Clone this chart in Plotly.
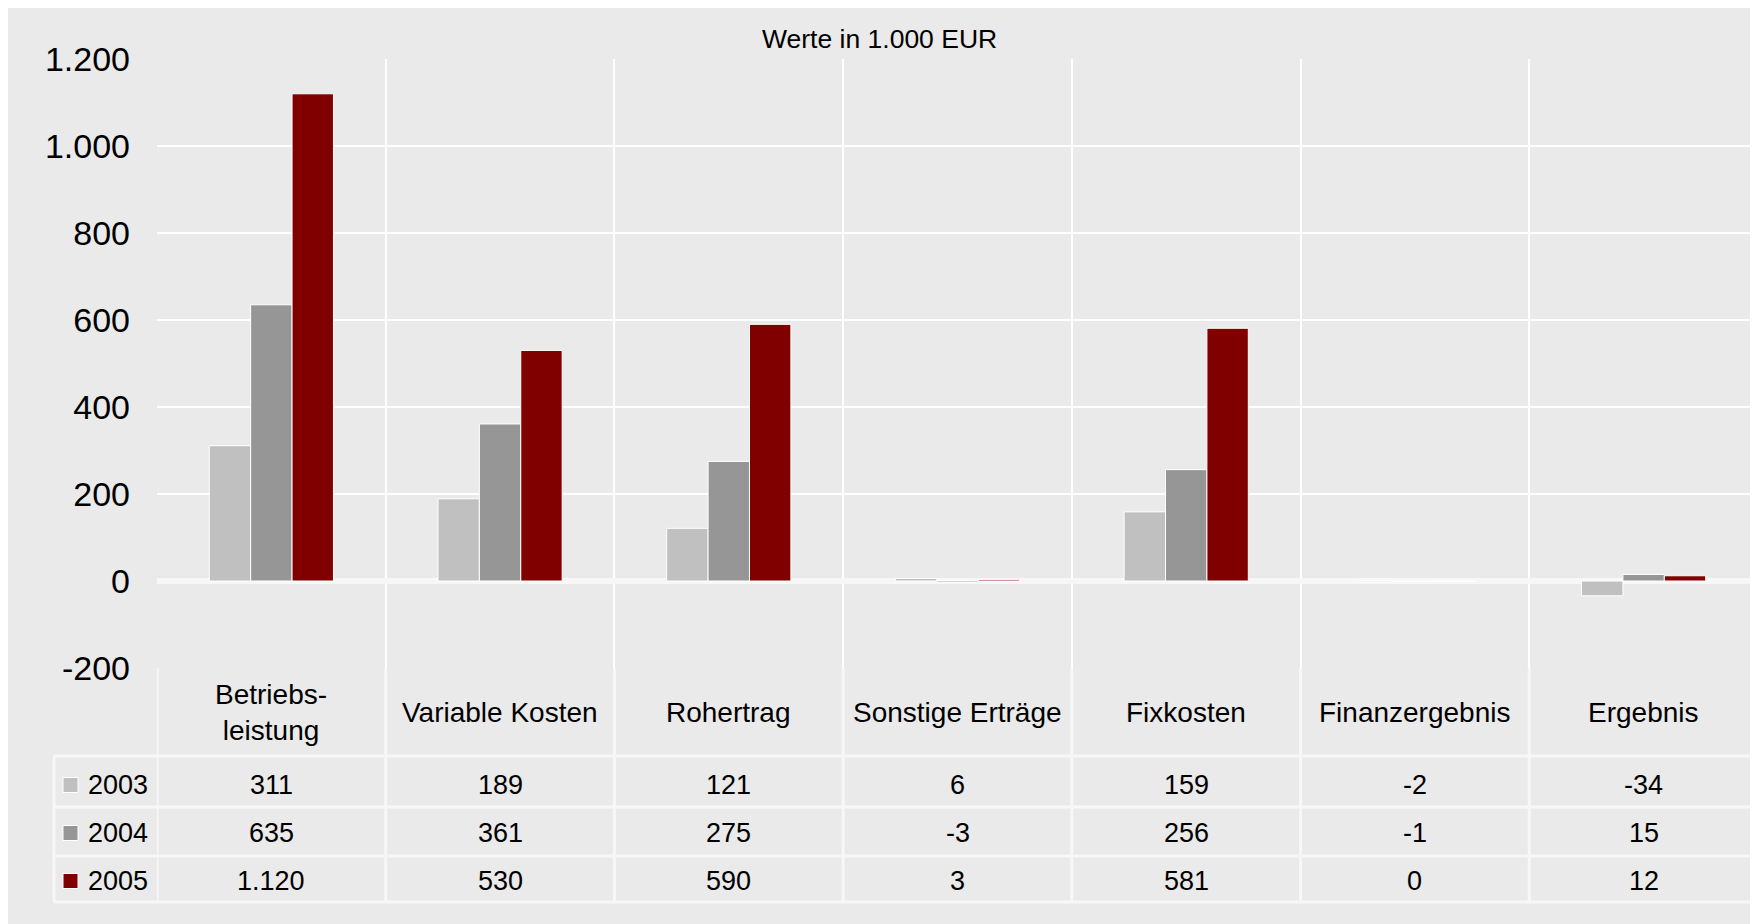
import plotly.graph_objects as go

# ---------------- data ----------------
categories = ["Betriebsleistung", "Variable Kosten", "Rohertrag", "Sonstige Erträge",
              "Fixkosten", "Finanzergebnis", "Ergebnis"]
header_labels = ["Betriebs-<br>leistung", "Variable Kosten", "Rohertrag", "Sonstige Erträge",
                 "Fixkosten", "Finanzergebnis", "Ergebnis"]
years = ["2003", "2004", "2005"]
values_2003 = [311, 189, 121, 6, 159, -2, -34]
values_2004 = [635, 361, 275, -3, 256, -1, 15]
values_2005 = [1120, 530, 590, 3, 581, 0, 12]
series_colors = ["#c0c0c0", "#969696", "#800000"]
y_tickvals = [-200, 0, 200, 400, 600, 800, 1000, 1200]
y_ticktext = ["-200", "0", "200", "400", "600", "800", "1.000", "1.200"]
title_text = "Werte in 1.000 EUR"

series = [values_2003, values_2004, values_2005]

# ---------------- layout helpers (window pixel -> paper) ----------------
OFF = 8                      # page body margin
W, H = 1758 - OFF, 924 - OFF
def px(x):
    return (x - OFF) / W
def py(y):
    return 1 - (y - OFF) / H

FONT = "Liberation Sans, Arial, sans-serif"
PANEL = "#e9eae9"
ZERO = "#f7f7f7"
TABLE_LINE = "#f7f7f7"

def fmt(v):
    return f"{v:,}".replace(",", ".")

fig = go.Figure()
for year, vals, col in zip(years, series, series_colors):
    fig.add_trace(go.Bar(
        x=categories, y=vals, name=year,
        marker=dict(color=col, line=dict(color="white", width=1)),
        showlegend=False, hoverinfo="x+y+name",
    ))

shapes = []
# table geometry (window pixels)
row_lines = [756, 807, 856, 902]
row_centers = [785, 833, 881]
header_center = 712
table_top = 668
legend_left = 54

for yl in row_lines:
    shapes.append(dict(type="line", xref="paper", yref="paper", x0=px(legend_left), x1=1,
                       y0=py(yl), y1=py(yl), line=dict(color=TABLE_LINE, width=3)))
shapes.append(dict(type="line", xref="paper", yref="paper", x0=px(legend_left), x1=px(legend_left),
                   y0=py(row_lines[0]), y1=py(row_lines[-1]), line=dict(color=TABLE_LINE, width=3)))
for i in range(len(categories) + 1):
    shapes.append(dict(type="line", xref="x", yref="paper", x0=i - 0.5, x1=i - 0.5,
                       y0=py(table_top), y1=py(row_lines[-1]), line=dict(color=TABLE_LINE, width=3)))

annotations = []
annotations.append(dict(text=title_text, xref="paper", yref="paper", x=px(879), y=py(39),
                        xanchor="center", yanchor="middle", showarrow=False,
                        font=dict(size=26.5, color="#000000", family=FONT)))
for cat, lab in zip(categories, header_labels):
    annotations.append(dict(text=lab, xref="x", yref="paper", x=cat, y=py(header_center),
                            xanchor="center", yanchor="middle", showarrow=False,
                            font=dict(size=28, color="#000000", family=FONT)))
for r, (year, vals, col) in enumerate(zip(years, series, series_colors)):
    yc = row_centers[r]
    for cat, v in zip(categories, vals):
        annotations.append(dict(text=fmt(v), xref="x", yref="paper", x=cat, y=py(yc),
                                xanchor="center", yanchor="middle", showarrow=False,
                                font=dict(size=27, color="#000000", family=FONT)))
    # legend key
    shapes.append(dict(type="rect", xref="paper", yref="paper", x0=px(63), x1=px(78),
                       y0=py(yc + 7.5), y1=py(yc - 7.5), fillcolor=col,
                       line=dict(color="white", width=1)))
    annotations.append(dict(text=year, xref="paper", yref="paper", x=px(86), y=py(yc),
                            xanchor="left", yanchor="middle", showarrow=False,
                            font=dict(size=27, color="#000000", family=FONT)))

fig.update_layout(
    width=W, height=H,
    margin=dict(l=0, r=0, t=0, b=0, pad=0),
    paper_bgcolor=PANEL,
    plot_bgcolor=PANEL,
    font=dict(family=FONT, color="#000000"),
    barmode="group", bargap=0.457, bargroupgap=0,
    shapes=shapes, annotations=annotations,
    xaxis=dict(domain=[px(157), 1], type="category", categoryorder="array",
               categoryarray=categories, range=[-0.5, 6.5], tickson="boundaries",
               showgrid=True, gridcolor="white", gridwidth=2, showticklabels=False,
               ticks="", showline=False, zeroline=False, automargin=False, fixedrange=True),
    yaxis=dict(domain=[py(668), py(59)], range=[-200, 1200], tickmode="array",
               tickvals=y_tickvals, ticktext=y_ticktext, showgrid=True, gridcolor="white",
               gridwidth=2, zeroline=True, zerolinecolor=ZERO, zerolinewidth=6,
               tickfont=dict(size=34, color="#000000", family=FONT), ticks="",
               ticklabelstandoff=26, showline=False, automargin=False, fixedrange=True),
)

fig.write_html("out.html")
